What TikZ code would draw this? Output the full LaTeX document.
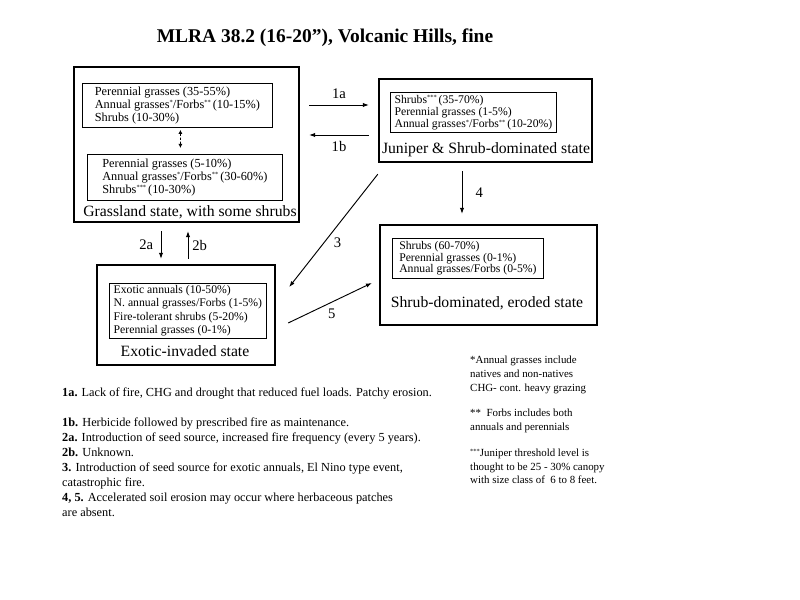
\documentclass[tikz,border=0pt]{standalone}
\usepackage{fontspec}
\setmainfont{Liberation Serif}
\usetikzlibrary{arrows.meta,calc}

\newcommand\boxfont{\fontsize{10}{11}\selectfont}
\newcommand\statefont{\fontsize{13.4}{15}\selectfont}
\newcommand\starmark[1]{\raisebox{.6ex}{\fontsize{5.5}{5}\selectfont#1}}

\tikzset{
  arr/.style={-{Latex[length=5pt,width=3.6pt]},line width=.8pt},
  inbox/.style={draw,line width=.7pt,anchor=north west,align=left,inner ysep=1pt,font=\boxfont},
}

\begin{document}
\begin{tikzpicture}[x=0.03cm,y=-0.03cm]
  \useasboundingbox (0,0) rectangle (800,600);

  \node[font=\bfseries\fontsize{16.6}{19}\selectfont] (title) at (325,38) {MLRA 38.2 (16-20”), Volcanic Hills, fine};

  % the four states
  \begin{scope}[every node/.style={draw,line width=2pt,inner sep=0pt}]
    \node[minimum width=6.75cm,minimum height=4.65cm] (grass)  at (186.5,144.5) {};
    \node[minimum width=6.39cm,minimum height=2.49cm] (jun)    at (485.5,120.5) {};
    \node[minimum width=5.34cm,minimum height=3cm]    (exotic) at (186,315)     {};
    \node[minimum width=6.51cm,minimum height=3cm]    (shrub)  at (488.5,275)   {};
  \end{scope}

  % plant communities
  \node[inbox,minimum width=5.7cm,minimum height=1.32cm,font=\fontsize{10.5}{11}\selectfont] (g1) at (82,83)
    {Perennial grasses (35-55\%)\\
     Annual grasses\starmark{*}/Forbs\starmark{**}\,(10-15\%)\hspace{.3cm}\\
     Shrubs (10-30\%)};
  \node[inbox,minimum width=5.85cm,minimum height=1.38cm,font=\fontsize{10.5}{11}\selectfont] (g2) at (87,154)
    {Perennial grasses (5-10\%)\\
     Annual grasses\starmark{*}/Forbs\starmark{**}\,(30-60\%)\\
     Shrubs\starmark{***}\,(10-30\%)};
  \node[inbox,minimum width=4.98cm,minimum height=1.2cm,font=\fontsize{10}{10.3}\selectfont] (j1) at (390,92)
    {Shrubs\starmark{***}\,(35-70\%)\\
     Perennial grasses (1-5\%)\\
     Annual grasses\starmark{*}/Forbs\starmark{**}\,(10-20\%)};
  \node[inbox,minimum width=4.71cm,minimum height=1.65cm,font=\fontsize{10}{11.5}\selectfont] (e1) at (109,283)
    {Exotic annuals (10-50\%)\\
     N. annual grasses/Forbs (1-5\%)\\
     Fire-tolerant shrubs (5-20\%)\\
     Perennial grasses (0-1\%)};
  \node[inbox,minimum width=4.53cm,minimum height=1.2cm,font=\fontsize{10}{10}\selectfont] (s1) at (392,238)
    {Shrubs (60-70\%)\\
     Perennial grasses (0-1\%)\\
     Annual grasses/Forbs (0-5\%)\hspace{.15cm}};

  \begin{scope}[every node/.style={font=\statefont}]
    \node (grasslab)  at (190,212) {Grassland state, with some shrubs};
    \node (junlab)    at (486,150) {Juniper \& Shrub-dominated state};
    \node (exoticlab) at (185,351) {Exotic-invaded state};
    \node (shrublab)  at (487,303) {Shrub-dominated, eroded state};
  \end{scope}

  % transitions
  \draw[{Latex[length=3.5pt,width=3.5pt]}-{Latex[length=3.5pt,width=3.5pt]},line width=.7pt,dash pattern=on 2pt off 1.5pt]
    ($(g1.south)+(3,2)$) -- ($(g2.north)+(-4.5,-6)$);

  \begin{scope}[every node/.style={font=\fontsize{12.5}{14}\selectfont}]
    \path ($(grass.east)+(9,-39.5)$) edge[arr] node[above=2pt] {1a} ($(jun.west)+(-9,-15.5)$);
    \path ($(jun.west)+(-9,14.5)$)   edge[arr] node[below=2pt] {1b} ($(grass.east)+(9,-9.5)$);
    \path ($(grass.south)+(-25.5,8)$) edge[arr] node[left=3pt] {2a} ($(exotic.north)+(-25,-5)$);
    \path ($(exotic.north)+(2,-5)$)  edge[arr] node[right] {2b} ($(grass.south)+(1.5,8)$);
    \path ($(jun.south west)+(0,11)$) edge[arr] node[pos=.61,right=5pt] {3} ($(exotic.east)+(13,-28)$);
    \path ($(jun.south)+(-23.5,8)$)  edge[arr] node[right=8pt] {4} ($(shrub.north)+(-26.5,-10)$);
    \path ($(exotic.east)+(12,8)$)   edge[arr] node[pos=.52,below=2pt] {5} ($(shrub.west)+(-7,8)$);
  \end{scope}

  % notes
  \node[anchor=north west,align=left,inner sep=0pt,font=\fontsize{10.5}{12.8}\selectfont] (notes) at (62,388)
    {\textbf{1a.} Lack of fire, CHG and drought that reduced fuel loads. Patchy erosion.\\[12.8pt]
     \textbf{1b.} Herbicide followed by prescribed fire as maintenance.\\
     \textbf{2a.} Introduction of seed source, increased fire frequency (every 5 years).\\
     \textbf{2b.} Unknown.\\
     \textbf{3.} Introduction of seed source for exotic annuals, El Nino type event,\\
     catastrophic fire.\\
     \textbf{4, 5.} Accelerated soil erosion may occur where herbaceous patches\\
     are absent.};

  \node[anchor=north west,align=left,inner sep=0pt,font=\fontsize{9.3}{11.8}\selectfont] (foot) at (470,356)
    {*Annual grasses include\\
     natives and non-natives\\
     CHG- cont. heavy grazing\\[10pt]
     ** \ Forbs includes both\\
     annuals and perennials\\[10pt]
     \starmark{***}Juniper threshold level is\\
     thought to be 25 - 30\% canopy\\
     with size class of \ 6 to 8 feet.};

\end{tikzpicture}
\end{document}
